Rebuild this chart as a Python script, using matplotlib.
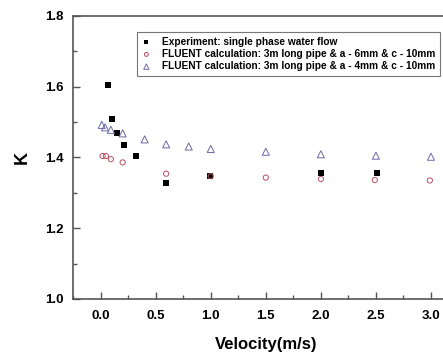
import matplotlib
matplotlib.use("Agg")
import matplotlib.pyplot as plt
from matplotlib.ticker import MultipleLocator

plt.rcParams["font.family"] = ["Liberation Sans", "DejaVu Sans"]
plt.rcParams["font.weight"] = "bold"

# experiment: single phase water flow
exp_v = [0.066, 0.10, 0.148, 0.208, 0.317, 0.595, 0.99, 1.997, 2.51]
exp_k = [1.604, 1.509, 1.470, 1.435, 1.404, 1.329, 1.348, 1.356, 1.356]

# FLUENT a - 6mm
a6_v = [0.018, 0.048, 0.093, 0.20, 0.595, 1.0, 1.5, 2.0, 2.49, 2.99]
a6_k = [1.404, 1.404, 1.395, 1.386, 1.354, 1.347, 1.343, 1.339, 1.336, 1.335]

# FLUENT a - 4mm
a4_v = [0.01, 0.04, 0.093, 0.20, 0.40, 0.595, 0.80, 1.0, 1.5, 2.0, 2.5, 3.0]
a4_k = [1.492, 1.485, 1.478, 1.468, 1.451, 1.437, 1.431, 1.424, 1.416, 1.409, 1.405, 1.402]

labels = ["Experiment: single phase water flow",
          "FLUENT calculation: 3m long pipe & a - 6mm & c - 10mm",
          "FLUENT calculation: 3m long pipe & a - 4mm & c - 10mm"]

fig = plt.figure(figsize=(4.43, 3.53), dpi=100)
ax = fig.add_axes([0.165, 0.153, 0.870, 0.802])

ax.scatter(exp_v, exp_k, marker="s", s=14, color="black", linewidths=0,
           label=labels[0], zorder=3)
ax.scatter(a6_v, a6_k, marker="o", s=14, facecolors="none", edgecolors="#b85060",
           linewidths=0.7, label=labels[1], zorder=3)
ax.scatter(a4_v, a4_k, marker="^", s=26, facecolors="none", edgecolors="#6a6aa8",
           linewidths=0.7, label=labels[2], zorder=3)

ax.set_xlim(-0.25, 3.25)
ax.set_ylim(1.0, 1.8)
ax.xaxis.set_major_locator(MultipleLocator(0.5))
ax.xaxis.set_minor_locator(MultipleLocator(0.25))
ax.yaxis.set_major_locator(MultipleLocator(0.2))
ax.yaxis.set_minor_locator(MultipleLocator(0.1))
ax.tick_params(which="both", direction="in", colors="#555555", labelcolor="black",
               labelsize=9.5, width=1.0)
ax.tick_params(which="major", length=5)
ax.tick_params(which="minor", length=3)
ax.tick_params(axis="x", which="major", pad=8)
ax.tick_params(axis="y", which="major", pad=7)
for sp in ax.spines.values():
    sp.set_color("#555555")
    sp.set_linewidth(1.2)

ax.set_xlabel("Velocity(m/s)", fontsize=12, fontweight="bold", labelpad=11)
ax.set_ylabel("K", fontsize=13, fontweight="bold", labelpad=10)

leg = ax.legend(loc="upper left", bbox_to_anchor=(0.152, 0.96), fontsize=7.3,
                frameon=True, fancybox=False, edgecolor="#555555",
                handletextpad=1.0, borderpad=0.45, labelspacing=0.22,
                handlelength=1.0, markerscale=0.75)
leg.get_frame().set_linewidth(0.8)

fig.savefig("out.png", dpi=100)
